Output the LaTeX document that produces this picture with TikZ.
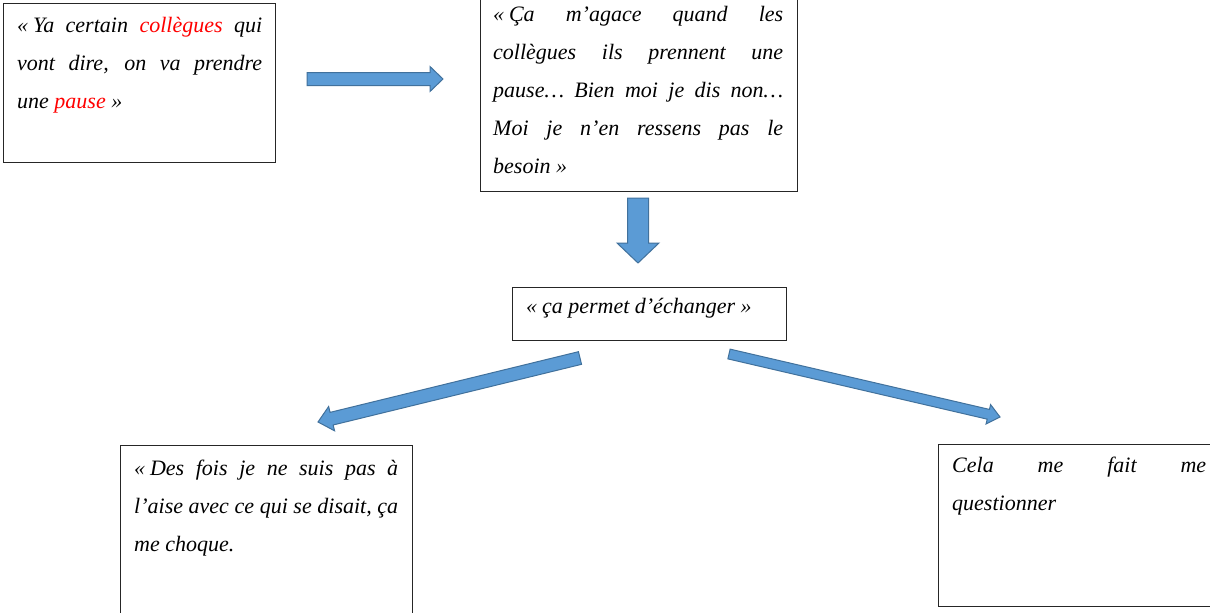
\documentclass[tikz,border=0pt]{standalone}
\usepackage{fontspec}
\setmainfont{Liberation Serif}
\usetikzlibrary{calc}
\definecolor{arrowfill}{HTML}{5B9BD5}
\definecolor{arrowline}{HTML}{41719C}
\definecolor{boxline}{HTML}{262626}
\newcommand\blockarr[5]{% tail, tip, half shaft, half head, head length
  \coordinate (hb) at ($(#2)!#5!(#1)$);
  \filldraw[fill=arrowfill, draw=arrowline, line width=1pt, line join=miter]
    ($(#1)!#3!90:(#2)$) -- ($(hb)!#3!90:(#2)$) -- ($(hb)!#4!90:(#2)$) -- (#2)
    -- ($(hb)!#4!-90:(#2)$) -- ($(hb)!#3!-90:(#2)$) -- ($(#1)!#3!-90:(#2)$) -- cycle;
}
\newcommand\og{«\hspace{0.22em}}
\tikzset{
  box/.style={draw=boxline, line width=1pt, fill=white, inner sep=0pt, anchor=north west},
  txt/.style={inner sep=0pt, anchor=base west, align=justify,
    font=\itshape\fontsize{22}{38}\selectfont},
}
\begin{document}
\begin{tikzpicture}[x=1pt,y=-1pt]
\clip (0,0) rectangle (1210,613);
\fill[white] (0,0) rectangle (1210,613);
% boxes
\node[box, minimum width=272pt, minimum height=159pt] (b1) at (3,3) {};
\node[box, minimum width=317pt, minimum height=197pt] (b2) at (480,-6) {};
\node[box, minimum width=274pt, minimum height=53pt] (b3) at (512,287) {};
\node[box, minimum width=292pt, minimum height=180pt] (b4) at (120,445) {};
\node[box, minimum width=280pt, minimum height=162pt] (b5) at (938,444) {};
% texts
\node[txt, text width=245pt] (q1) at (17,32)
  {\og Ya certain \textcolor{red}{collègues} qui\linebreak vont dire, on va prendre\linebreak une \textcolor{red}{pause} »};
\node[txt, text width=290pt] (q2) at (493,21)
  {\og Ça m’agace quand les\linebreak collègues ils prennent une\linebreak pause… Bien moi je dis non…\linebreak Moi je n’en ressens pas le\linebreak besoin »};
\node[txt, align=left] (q3) at (526,313) {\og ça permet d’échanger »};
\node[txt, text width=264pt] (q4) at (134,475)
  {\og Des fois je ne suis pas à\linebreak l’aise avec ce qui se disait, ça\linebreak me choque.};
\node[txt, text width=254pt] (q5) at (952,472)
  {Cela me fait me\linebreak questionner};
% arrows
\coordinate (t1) at (307,79);  \coordinate (h1) at (443,79);
\coordinate (t2) at (638,198); \coordinate (h2) at (638,263);
\coordinate (t3) at (580,358); \coordinate (h3) at (318,422);
\coordinate (t4) at (729,354); \coordinate (h4) at (1000,417);
\blockarr{t1}{h1}{6.5pt}{12.5pt}{13pt}
\blockarr{t2}{h2}{10.5pt}{21pt}{20pt}
\blockarr{t3}{h3}{6.5pt}{12.5pt}{14pt}
\blockarr{t4}{h4}{5pt}{10pt}{12pt}
\end{tikzpicture}
\end{document}
